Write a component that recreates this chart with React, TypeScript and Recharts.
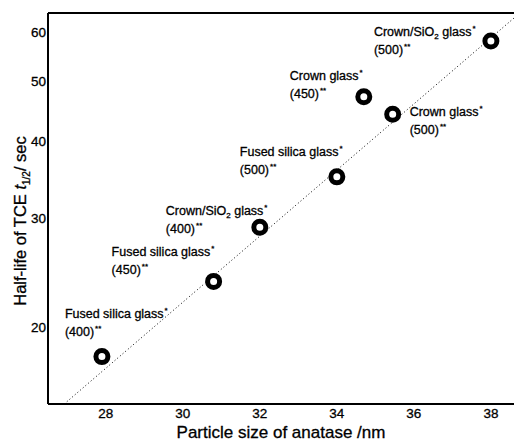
import React from 'react';
import { ComposedChart, Scatter, XAxis, YAxis } from 'recharts';

// particle size (nm) vs. TCE half-life (s)
const sizes = [27.9, 30.8, 32.0, 34.0, 34.7, 35.45, 38.0];
const halfLives = [17.9, 23.7, 29.0, 35.0, 47.2, 44.2, 58.1];
const glasses = [
  'Fused silica glass',
  'Fused silica glass',
  'Crown/SiO2 glass',
  'Fused silica glass',
  'Crown glass',
  'Crown glass',
  'Crown/SiO2 glass',
];
const temps = ['400', '450', '400', '500', '450', '500', '500'];

// dotted fit line end points
const fitSizes = [26.92, 38.6];
const fitHalfLives = [15.0, 63.3];

const xTicks = [28, 30, 32, 34, 36, 38];
const yTicks = [20, 30, 40, 50, 60];

// where each label sits relative to its circle: [dx, baseline dy]
const labelOffsets = [
  [-37, -39],
  [-102, -25],
  [-94, -12],
  [-97, -21],
  [-74, -17],
  [17, 2],
  [-117, -5],
];

const points = sizes.map((x, i) => ({ x, y: halfLives[i], glass: glasses[i], temp: temps[i], i }));
const fitData = fitSizes.map((x, i) => ({ x, y: fitHalfLives[i] }));

const FONT = '"Liberation Sans", Arial, Helvetica, sans-serif';
const ink = { fill: '#000', stroke: '#000', strokeWidth: 0.3, fontFamily: FONT };

const Ring = (props: any) => {
  const { cx, cy, payload } = props;
  const [dx, dy] = labelOffsets[payload.i];
  const x = cx + dx;
  const name: string = payload.glass;
  const parts = name.split('SiO2');
  return (
    <g>
      <circle cx={cx} cy={cy} r={6} fill="#fff" stroke="#000" strokeWidth={5} />
      <text x={x} y={cy + dy} fontSize={12.5} {...ink}>
        {parts.length > 1 ? (
          <>
            <tspan>{parts[0]}SiO</tspan>
            <tspan fontSize={8} dy={3}>2</tspan>
            <tspan dy={-3}>{parts[1]}</tspan>
          </>
        ) : (
          <tspan>{name}</tspan>
        )}
        <tspan fontSize={8} dy={-5} dx={1}>*</tspan>
      </text>
      <text x={x} y={cy + dy + 18} fontSize={12.5} {...ink}>
        ({payload.temp})<tspan fontSize={8} dy={-5} dx={1}>**</tspan>
      </text>
    </g>
  );
};

const YTitle = () => (
  <text x={26} y={221} transform="rotate(-90, 26, 221)" textAnchor="middle" fontSize={16.5} {...ink}>
    Half-life of TCE{'  '}
    <tspan fontStyle="italic">t</tspan>
    <tspan fontSize={10} dy={4}>1/2</tspan>
    <tspan dy={-4}>/ sec</tspan>
  </text>
);

const XTitle = () => (
  <text x={281} y={438} textAnchor="middle" fontSize={17} {...ink}>
    Particle size of anatase /nm
  </text>
);

const frame = { stroke: '#000', strokeWidth: 2 };
const tickStyle = { ...ink, fontSize: 13.5 };

export default function App() {
  return (
    <div style={{ position: 'absolute', left: 0, top: 0, background: '#fff' }}>
      <ComposedChart width={514} height={442} margin={{ top: 13, right: 0, bottom: 0, left: 0 }}>
        {/* frame + inward ticks */}
        <XAxis
          xAxisId="bt"
          orientation="bottom"
          mirror
          dataKey="x"
          type="number"
          domain={[26.5, 38.6]}
          allowDataOverflow
          ticks={xTicks}
          height={1}
          tickSize={5}
          axisLine={frame}
          tickLine={frame}
          tick={false}
        />
        <XAxis
          xAxisId="b"
          dataKey="x"
          type="number"
          domain={[26.5, 38.6]}
          allowDataOverflow
          ticks={xTicks}
          height={38}
          tickSize={0}
          tickMargin={4}
          axisLine={false}
          tickLine={false}
          tick={tickStyle}
          label={<XTitle />}
        />
        <XAxis
          xAxisId="t"
          orientation="top"
          mirror
          dataKey="x"
          type="number"
          domain={[26.5, 38.6]}
          allowDataOverflow
          ticks={xTicks}
          height={1}
          tickSize={5}
          axisLine={frame}
          tickLine={frame}
          tick={false}
        />
        <YAxis
          yAxisId="lt"
          orientation="left"
          mirror
          dataKey="y"
          type="number"
          scale="log"
          domain={[15, 64.5]}
          allowDataOverflow
          ticks={yTicks}
          width={1}
          tickSize={5}
          axisLine={frame}
          tickLine={frame}
          tick={false}
        />
        <YAxis
          yAxisId="l"
          dataKey="y"
          type="number"
          scale="log"
          domain={[15, 64.5]}
          allowDataOverflow
          ticks={yTicks}
          width={48}
          tickSize={0}
          tickMargin={2}
          axisLine={false}
          tickLine={false}
          tick={tickStyle}
          label={<YTitle />}
        />
        <YAxis
          yAxisId="r"
          orientation="right"
          mirror
          dataKey="y"
          type="number"
          scale="log"
          domain={[15, 64.5]}
          allowDataOverflow
          ticks={yTicks}
          width={1}
          tickSize={4}
          axisLine={false}
          tickLine={frame}
          tick={false}
        />
        <Scatter
          xAxisId="b"
          yAxisId="l"
          data={fitData}
          line={{ stroke: '#000', strokeWidth: 1, strokeDasharray: '1 2.5' }}
          shape={() => <g />}
          isAnimationActive={false}
        />
        <Scatter xAxisId="b" yAxisId="l" data={points} shape={Ring} isAnimationActive={false} />
        <Scatter xAxisId="bt" yAxisId="lt" data={fitData} shape={() => <g />} isAnimationActive={false} />
        <Scatter xAxisId="t" yAxisId="r" data={fitData} shape={() => <g />} isAnimationActive={false} />
      </ComposedChart>
    </div>
  );
}
